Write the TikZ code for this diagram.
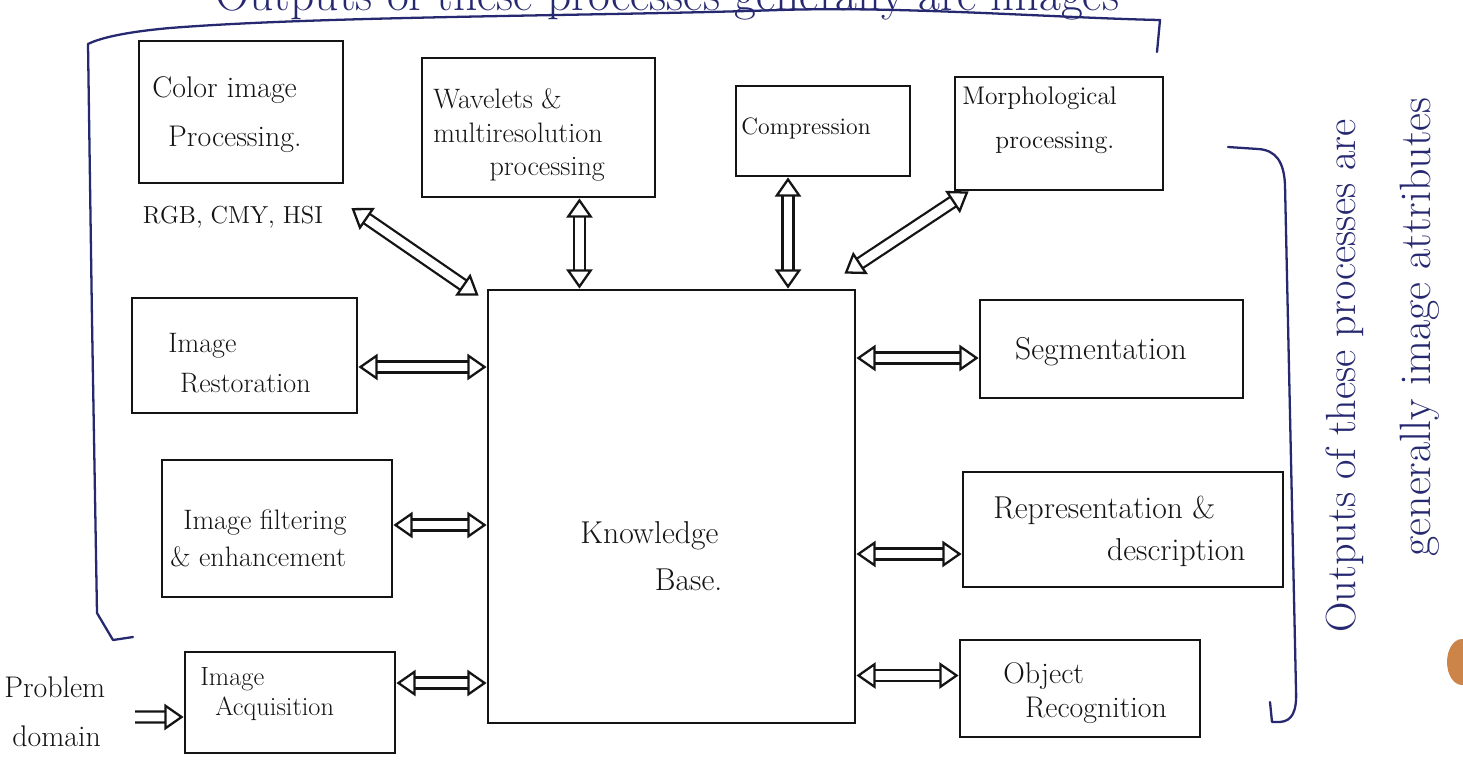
\documentclass[tikz,border=0pt]{standalone}
\usetikzlibrary{arrows.meta,fit}
\definecolor{ink}{RGB}{38,40,112}
\definecolor{pen}{RGB}{20,20,20}
\definecolor{thumb}{RGB}{205,132,72}
\newcommand\myfs[2]{\fontsize{#1}{#2}\selectfont}
\newcommand\conn[2]{\draw[shaft] #1 -- #2; \draw[heads,<->] #1 -- #2;}
\tikzset{
  box/.style={draw=pen, line width=1.6pt, inner sep=0pt, rectangle},
  lbl/.style={inner sep=0pt, text=pen, align=left, anchor=west},
  shaft/.style={draw=pen, line width=1.3pt, double=white, double distance=5pt, shorten <=6pt, shorten >=6pt},
  heads/.style={draw=white, line width=0.3pt, >={Triangle[length=11pt,width=15pt,line width=1.3pt,color=pen,fill=white]}},
  bracket/.style={draw=ink, line width=1.3pt, line cap=round, line join=round},
}
\begin{document}
\begin{tikzpicture}[x=0.02cm,y=-0.02cm]
\useasboundingbox (0,0) rectangle (1463,778);
\fill[white] (0,0) rectangle (1463,778);

% boxes
\node[box, fit={(139,41) (343,183)}] (cip) {};
\node[box, fit={(422,58) (655,197)}] (wav) {};
\node[box, fit={(736,86) (910,176)}] (cmp) {};
\node[box, fit={(955,77) (1163,190)}] (mor) {};
\node[box, fit={(132,298) (357,413)}] (res) {};
\node[box, fit={(162,460) (392,597)}] (fil) {};
\node[box, fit={(185,652) (395,753)}] (acq) {};
\node[box, fit={(488,290) (855,723)}] (kb) {};
\node[box, fit={(980,300) (1243,398)}] (seg) {};
\node[box, fit={(963,472) (1283,587)}] (rep) {};
\node[box, fit={(960,640) (1200,737)}] (obj) {};

% labels
\node[lbl, font=\myfs{17}{28}] (ciptxt) at (152,115) {Color image\\\hspace*{0.53em}Processing.};
\node[lbl, anchor=center, font=\myfs{14}{17}] (rgb) at (233,217) {RGB, CMY, HSI};
\node[lbl, font=\myfs{16}{19}] (wavtxt) at (433,135) {Wavelets \&\\multiresolution\\\hspace*{2.0em}processing};
\node[lbl, anchor=center, font=\myfs{13.5}{16}] (cmptxt) at (806,128) {Compression};
\node[lbl, font=\myfs{14.5}{25}] (mortxt) at (962,120) {Morphological\\\hspace*{1.3em}processing.};
\node[lbl, font=\myfs{16}{22.7}] (restxt) at (168,363) {Image\\\hspace*{0.42em}Restoration};
\node[lbl, font=\myfs{16}{21}] (filtxt) at (170,538) {\hspace*{0.46em}Image filtering\\\& enhancement};
\node[lbl, font=\myfs{15}{17}] (acqtxt) at (200,694) {Image\\\hspace*{0.57em}Acquisition};
\node[lbl, font=\myfs{17}{28}] (prob) at (4,712) {Problem\\\hspace*{0.27em}domain};
\node[lbl, font=\myfs{18}{27}] (kbtxt) at (580,556) {Knowledge\\\hspace*{2.36em}Base.};
\node[lbl, anchor=center, font=\myfs{18}{22}] (segtxt) at (1101,352) {Segmentation};
\node[lbl, font=\myfs{18}{24}] (reptxt) at (993,531) {Representation \&\\\hspace*{3.6em}description};
\node[lbl, font=\myfs{17}{19}] (objtxt) at (1003,693) {Object\\\hspace*{0.73em}Recognition};

% connectors
\conn{([shift={(0.56cm,0.18cm)}]rgb.east)}{([shift={(-0.16cm,-0.14cm)}]kb.north west)}
\conn{(wav.300)}{(wav.300 |- kb.north)}
\conn{([xshift=-0.7cm]cmp.south)}{([xshift=-0.7cm]cmp.south |- kb.north)}
\conn{([xshift=0.3cm]mor.south west)}{([shift={(-0.24cm,0.3cm)}]kb.north east)}
\conn{([yshift=-0.23cm]res.east)}{([yshift=-0.23cm]res.east -| kb.west)}
\conn{([yshift=0.07cm]fil.east)}{([yshift=0.07cm]fil.east -| kb.west)}
\conn{([yshift=0.39cm]acq.east)}{([yshift=0.39cm]acq.east -| kb.west)}
\conn{([yshift=-0.18cm]seg.west)}{([yshift=-0.18cm]seg.west -| kb.east)}
\conn{([yshift=-0.49cm]rep.west)}{([yshift=-0.49cm]rep.west -| kb.east)}
\conn{([yshift=0.26cm]obj.west)}{([yshift=0.26cm]obj.west -| kb.east)}
\coordinate (ps) at (135,717);
\draw[shaft, shorten <=0pt] (ps) -- ([yshift=-0.29cm]acq.west);
\draw[heads, ->] (ps) -- ([yshift=-0.29cm]acq.west);

% blue brackets and notes
\draw[bracket] (1157,52) -- (1160,20) .. controls (1060,18) and (900,6) .. (780,10)
  .. controls (600,16) and (320,16) .. (170,28) .. controls (125,32) and (100,38) .. (88,44)
  -- (92,320) -- (97,613) -- (113,640) -- (133,637);
\draw[bracket] (1228,147) -- (1258,149) .. controls (1276,150) and (1284,162) .. (1285,185)
  -- (1296,690) .. controls (1297,712) and (1292,721) .. (1280,722) -- (1272,722) -- (1270,702);
\node[anchor=base west, inner sep=0pt, text=ink, font=\myfs{27}{32}] (toptxt) at (215,10) {Outputs of these processes generally are images};
\node[rotate=90, inner sep=0pt, text=ink, font=\myfs{24}{28}] (side1) at (1345,376) {Outputs of these processes are};
\node[rotate=90, inner sep=0pt, text=ink, font=\myfs{25}{30}] (side2) at (1420,327) {generally image attributes};
\fill[thumb] (1462,662) ellipse [x radius=0.3cm, y radius=0.46cm];
\end{tikzpicture}
\end{document}
